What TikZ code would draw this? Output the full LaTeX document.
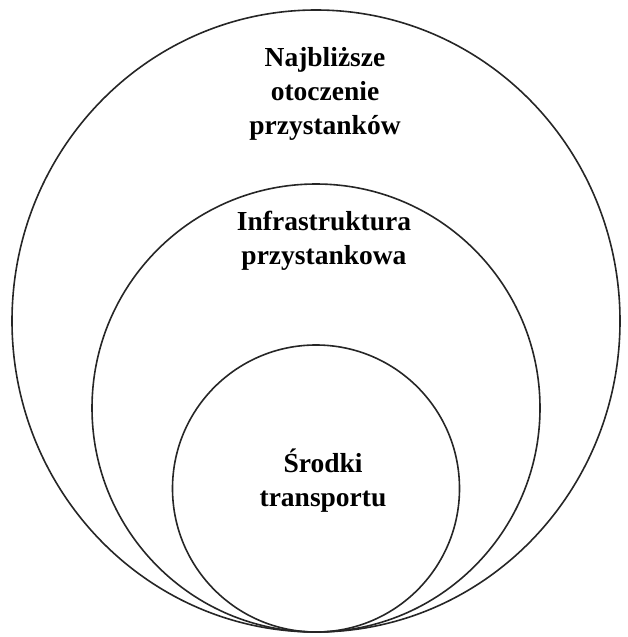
\documentclass[tikz,border=0pt]{standalone}
\usepackage{fontspec}
\setmainfont{Liberation Serif}
\begin{document}
\begin{tikzpicture}[x=1pt,y=-1pt,
  ring/.style={draw=black!85,line width=1.6pt},
  lbl/.style={align=center,font=\bfseries\fontsize{27.5}{34}\selectfont,inner sep=0pt}]
\useasboundingbox (0,0) rectangle (627,637);
\draw[ring] (316,321) ellipse [x radius=304,y radius=311];
\draw[ring] (316,408) circle [radius=224];
\draw[ring] (316,488.5) circle [radius=143.5];
\node[lbl] (outer) at (325,94) {Najbliższe\\otoczenie\\przystanków};
\node[lbl] (middle) at (324,241) {Infrastruktura\\przystankowa};
\node[lbl] (inner) at (323,481) {Środki\\transportu};
\end{tikzpicture}
\end{document}
